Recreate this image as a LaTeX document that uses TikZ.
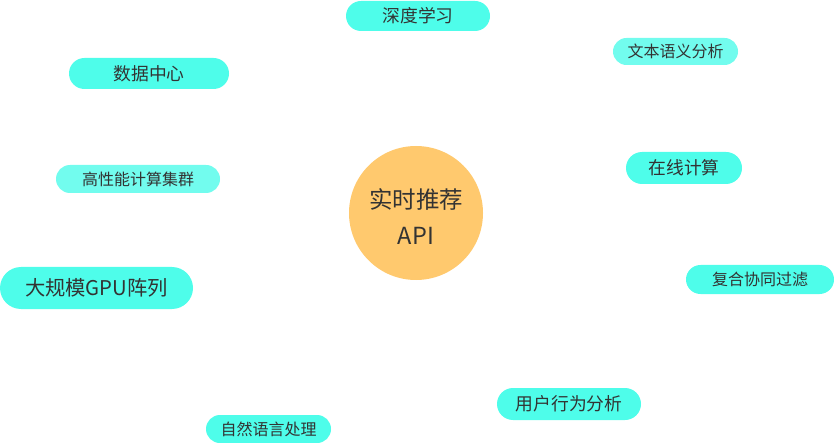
\documentclass[tikz,border=0pt]{standalone}
\usepackage{fontspec}
\setmainfont{Noto Sans CJK SC}
\definecolor{pillc}{HTML}{4EFDEA}
\definecolor{pilll}{HTML}{72FCEE}
\definecolor{hubc}{HTML}{FFC96E}
\definecolor{txt}{HTML}{333333}
\begin{document}
\begin{tikzpicture}[x=1pt,y=-1pt,
  pill/.style n args={3}{fill=#3, draw=none, text=txt, inner sep=0pt,
    minimum width=#1pt, minimum height=#2pt, rounded corners=#2/2*1pt},
  hub/.style={circle, fill=hubc, draw=none, minimum size=134pt, inner sep=0pt},
  hubtext/.style={text=txt, inner sep=0pt, align=center,
    font=\fontsize{23.5}{36}\selectfont},
  fa/.style={font=\fontsize{16}{18}\selectfont},
  fb/.style={font=\fontsize{17.8}{20}\selectfont},
  fc/.style={font=\fontsize{20.3}{22}\selectfont}]
\useasboundingbox (0,0) rectangle (834,443);
\node[hub] (api) at (416,213) {};
\node[hubtext] (apitxt) at (416,217) {实时推荐\\API};
\node[pill={144}{30}{pillc}, fb] (dl) at (418,16) {深度学习};
\node[pill={125}{27}{pilll}, fa] (wb) at (675.5,51.5) {文本语义分析};
\node[pill={160}{31}{pillc}, fb] (dc) at (149,73.5) {数据中心};
\node[pill={116}{32}{pillc}, fb] (zx) at (684,168) {在线计算};
\node[pill={164}{28}{pilll}, fa] (hpc) at (138,179) {高性能计算集群};
\node[pill={193}{42}{pillc}, fc] (gpu) at (96.5,288) {大规模GPU阵列};
\node[pill={148}{29}{pillc}, fa] (cf) at (760,279.5) {复合协同过滤};
\node[pill={144}{32}{pillc}, fb] (ub) at (569,404) {用户行为分析};
\node[pill={125}{28}{pillc}, fa] (nlp) at (268.5,429) {自然语言处理};
\end{tikzpicture}
\end{document}
